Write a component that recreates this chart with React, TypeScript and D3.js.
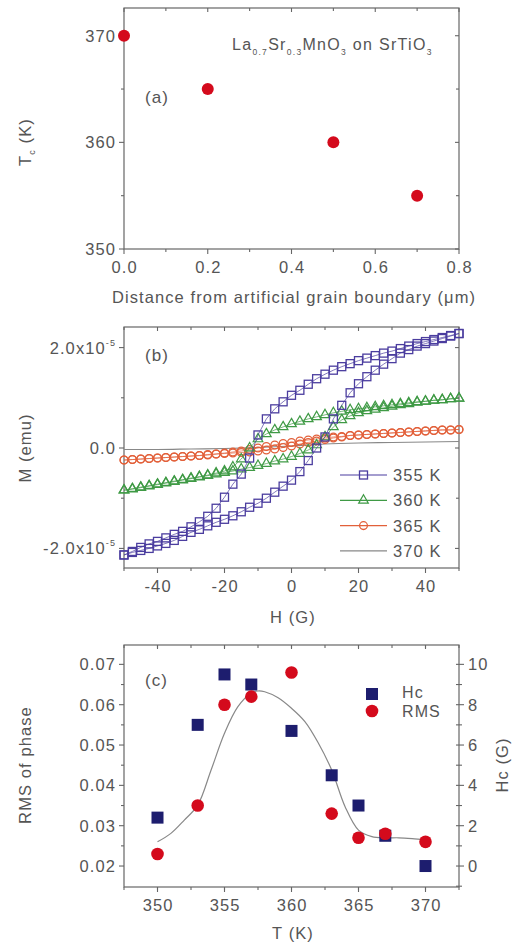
import React, { useEffect, useRef } from "react";
import * as d3 from "d3";

// panel (a): Tc vs distance from grain boundary
const distance = [0, 0.2, 0.5, 0.7];
const tcValues = [370, 365, 360, 355];

// panel (b): M-H loops, field in G, M in units of 1e-5 emu
const fieldH = [-50, -47.5, -45, -42.5, -40, -37.5, -35, -32.5, -30, -27.5, -25, -22.5, -20, -17.5, -15, -12.5, -10, -7.5, -5, -2.5, 0, 2.5, 5, 7.5, 10, 12.5, 15, 17.5, 20, 22.5, 25, 27.5, 30, 32.5, 35, 37.5, 40, 42.5, 45, 47.5, 50];
const m355Down = [-2.13, -2.06, -1.98, -1.91, -1.86, -1.79, -1.72, -1.66, -1.57, -1.47, -1.36, -1.2, -0.98, -0.72, -0.52, -0.2, 0.26, 0.58, 0.78, 0.92, 1.05, 1.15, 1.27, 1.38, 1.47, 1.55, 1.62, 1.68, 1.74, 1.79, 1.84, 1.89, 1.93, 1.98, 2.03, 2.08, 2.12, 2.16, 2.2, 2.24, 2.28];
const m355Up = [-2.13, -2.08, -2.04, -2.0, -1.95, -1.9, -1.84, -1.76, -1.68, -1.62, -1.55, -1.48, -1.42, -1.35, -1.27, -1.18, -1.1, -1.0, -0.88, -0.76, -0.64, -0.47, -0.25, 0.0, 0.22, 0.58, 0.85, 1.1, 1.28, 1.42, 1.55, 1.67, 1.78, 1.89, 1.96, 2.03, 2.08, 2.13, 2.18, 2.23, 2.28];
const m360Down = [-0.84, -0.81, -0.78, -0.75, -0.72, -0.69, -0.66, -0.63, -0.6, -0.57, -0.54, -0.5, -0.46, -0.38, -0.22, 0.0, 0.18, 0.28, 0.36, 0.42, 0.48, 0.53, 0.58, 0.62, 0.66, 0.7, 0.73, 0.76, 0.78, 0.8, 0.82, 0.84, 0.86, 0.88, 0.9, 0.92, 0.93, 0.95, 0.96, 0.98, 0.99];
const m360Up = [-0.84, -0.82, -0.79, -0.76, -0.73, -0.7, -0.67, -0.64, -0.61, -0.58, -0.55, -0.52, -0.49, -0.46, -0.42, -0.39, -0.35, -0.31, -0.26, -0.22, -0.17, -0.11, -0.04, 0.06, 0.22, 0.42, 0.56, 0.64, 0.7, 0.74, 0.77, 0.8, 0.83, 0.86, 0.88, 0.91, 0.93, 0.95, 0.96, 0.98, 0.99];
const m365Down = [-0.24, -0.23, -0.22, -0.21, -0.2, -0.19, -0.18, -0.17, -0.16, -0.15, -0.13, -0.12, -0.1, -0.08, -0.06, -0.03, 0.0, 0.03, 0.06, 0.09, 0.11, 0.14, 0.16, 0.18, 0.2, 0.22, 0.23, 0.25, 0.26, 0.27, 0.28, 0.29, 0.3, 0.31, 0.32, 0.33, 0.34, 0.35, 0.36, 0.36, 0.37];
const m365Up = [-0.24, -0.23, -0.22, -0.21, -0.2, -0.19, -0.18, -0.17, -0.16, -0.15, -0.14, -0.12, -0.11, -0.1, -0.09, -0.08, -0.06, -0.04, -0.02, 0.01, 0.04, 0.08, 0.11, 0.14, 0.17, 0.2, 0.22, 0.25, 0.26, 0.27, 0.28, 0.29, 0.3, 0.31, 0.32, 0.33, 0.34, 0.35, 0.36, 0.36, 0.37];
const field370 = [-50, -40, -30, -20, -10, 0, 10, 20, 30, 40, 50];
const m370 = [-0.03, -0.03, -0.02, -0.01, 0.01, 0.04, 0.08, 0.1, 0.11, 0.12, 0.13];
const loopLabels = ["355 K", "360 K", "365 K", "370 K"];

// panel (c): RMS of phase and Hc vs T
const tempT = [350, 353, 355, 357, 360, 363, 365, 367, 370];
const rmsPhase = [0.023, 0.035, 0.06, 0.062, 0.068, 0.033, 0.027, 0.028, 0.026];
const hcValues = [2.4, 7.0, 9.5, 9.0, 6.7, 4.5, 3.0, 1.5, 0.0];
const fitT = [350, 351, 352, 353, 354, 355, 356, 357, 357.5, 358, 359, 360, 361, 362, 363, 364, 365, 366, 367, 368, 369, 370];
const fitRms = [0.026, 0.0281, 0.0314, 0.0351, 0.0438, 0.0529, 0.0595, 0.0629, 0.0634, 0.0632, 0.0617, 0.0591, 0.0558, 0.0505, 0.0438, 0.0347, 0.0289, 0.0273, 0.027, 0.027, 0.0268, 0.0265];

const FONT = "'Liberation Sans', Arial, sans-serif";
const TEXT = "#555";
const AXIS = "#666";
const FS = 16.5;

type Sel = d3.Selection<SVGGElement, unknown, null, undefined>;

function frame(g: Sel, x: any, y: any, opts: any) {
  const [x0, x1] = x.range();
  const [y1, y0] = y.range();
  g.append("rect").attr("x", x0).attr("y", y0).attr("width", x1 - x0).attr("height", y1 - y0)
    .attr("fill", "none").attr("stroke", AXIS).attr("stroke-width", 1.2);
  const line = (xa: number, ya: number, xb: number, yb: number) =>
    g.append("line").attr("x1", xa).attr("y1", ya).attr("x2", xb).attr("y2", yb)
      .attr("stroke", AXIS).attr("stroke-width", 1.1);
  opts.xMinor.forEach((v: number) => {
    const px = x(v);
    line(px, y1, px, y1 + 3);
    line(px, y0, px, y0 + 3);
  });
  opts.xMajor.forEach((v: number) => {
    const px = x(v);
    line(px, y1, px, y1 + 5);
    line(px, y0, px, y0 + 4);
    g.append("text").attr("x", px + 0.6).attr("y", y1 + 24).attr("text-anchor", "middle")
      .attr("font-size", FS).attr("fill", TEXT).text(opts.xFmt(v));
  });
  opts.yMinor.forEach((v: number) => {
    const py = y(v);
    line(x0 - 3, py, x0, py);
    if (!opts.rightAxis) line(x1 - 3, py, x1, py);
  });
  opts.yMajor.forEach((v: number) => {
    const py = y(v);
    line(x0 - 5, py, x0, py);
    if (!opts.rightAxis) line(x1 - 4, py, x1, py);
    const t = g.append("text").attr("x", x0 - 8).attr("y", py + 6).attr("text-anchor", "end")
      .attr("font-size", FS).attr("fill", TEXT);
    opts.yFmt(t, v);
  });
}

function Chart() {
  const ref = useRef<SVGSVGElement>(null);

  useEffect(() => {
    const svg = d3.select(ref.current);
    svg.selectAll("*").remove();
    const root = svg.append("g").attr("font-family", FONT).attr("letter-spacing", 1.1);

    // ---------- (a) ----------
    const ga = root.append("g");
    const xa = d3.scaleLinear().domain([0, 0.8]).range([124, 459]);
    const ya = d3.scaleLinear().domain([350, 372.6]).range([249, 8]);
    frame(ga, xa, ya, {
      xMajor: d3.range(0, 0.81, 0.2), xMinor: d3.range(0.1, 0.8, 0.2), xFmt: d3.format(".1f"),
      yMajor: [350, 360, 370], yMinor: [355, 365],
      yFmt: (t: any, v: number) => t.text(v),
    });
    ga.selectAll("circle.tc").data(distance).enter().append("circle")
      .attr("cx", (d) => xa(d)).attr("cy", (d, i) => ya(tcValues[i])).attr("r", 6)
      .attr("fill", "#d40a1c");
    const title = ga.append("text").attr("x", 232).attr("y", 50).attr("font-size", 16)
      .attr("fill", TEXT).attr("letter-spacing", 1.3);
    const parts: [string, boolean][] = [["La", false], ["0.7", true], ["Sr", false], ["0.3", true], ["MnO", false], ["3", true], [" on SrTiO", false], ["3", true]];
    let prevSub = false;
    parts.forEach(([s, sub]) => {
      const dy = sub ? 5 : prevSub ? -5 : 0;
      title.append("tspan").attr("font-size", sub ? 8.5 : 16).attr("dy", dy).text(s);
      prevSub = sub;
    });
    ga.append("text").attr("x", 145).attr("y", 103).attr("font-size", 17).attr("fill", TEXT).text("(a)");
    const tcLab = ga.append("text").attr("transform", "translate(31,142) rotate(-90)")
      .attr("text-anchor", "middle").attr("font-size", FS).attr("fill", TEXT);
    tcLab.append("tspan").text("T");
    tcLab.append("tspan").attr("font-size", 9).attr("dy", 4).text("c");
    tcLab.append("tspan").attr("dy", -4).text(" (K)");
    ga.append("text").attr("x", 294).attr("y", 303).attr("text-anchor", "middle")
      .attr("font-size", FS).attr("fill", TEXT).text("Distance from artificial grain boundary (\u03bcm)");

    // ---------- (b) ----------
    const gb = root.append("g");
    const xb = d3.scaleLinear().domain([-50, 50]).range([124, 459]);
    const yb = d3.scaleLinear().domain([-2.39, 2.41]).range([568, 327]);
    frame(gb, xb, yb, {
      xMajor: [-40, -20, 0, 20, 40], xMinor: [-50, -30, -10, 10, 30, 50], xFmt: (v: number) => String(v),
      yMajor: [-2, 0, 2], yMinor: [-1, 1],
      yFmt: (t: any, v: number) => {
        if (v === 0) { t.text("0.0"); return; }
        t.append("tspan").text((v < 0 ? "-" : "") + "2.0x10");
        t.append("tspan").attr("font-size", 9).attr("dy", -8).text("-5");
      },
    });
    const lineB = d3.line<number>().x((d, i) => xb(fieldH[i])).y((d) => yb(d));
    const series = [
      { down: m355Down, up: m355Up, color: "#4b3d9f", shape: "square" },
      { down: m360Down, up: m360Up, color: "#3f9a45", shape: "triangle" },
      { down: m365Down, up: m365Up, color: "#e2603a", shape: "circle" },
    ];
    const marker = (g: Sel, shape: string, cx: number, cy: number, color: string) => {
      if (shape === "square") {
        g.append("rect").attr("x", cx - 4).attr("y", cy - 4).attr("width", 8).attr("height", 8)
          .attr("fill", "none").attr("stroke", color).attr("stroke-width", 1.3);
      } else if (shape === "triangle") {
        const sym = d3.symbol().type(d3.symbolTriangle).size(40);
        g.append("path").attr("d", sym()).attr("transform", `translate(${cx},${cy})`)
          .attr("fill", "none").attr("stroke", color).attr("stroke-width", 1.2);
      } else {
        g.append("circle").attr("cx", cx).attr("cy", cy).attr("r", 3.9)
          .attr("fill", "none").attr("stroke", color).attr("stroke-width", 1.3);
      }
    };
    gb.append("path").datum(m370)
      .attr("d", d3.line<number>().x((d, i) => xb(field370[i])).y((d) => yb(d)).curve(d3.curveMonotoneX))
      .attr("fill", "none").attr("stroke", "#888").attr("stroke-width", 1.2);
    series.slice().reverse().forEach((s) => {
      [s.down, s.up].forEach((arr) => {
        gb.append("path").datum(arr).attr("d", lineB).attr("fill", "none")
          .attr("stroke", s.color).attr("stroke-width", 1).attr("opacity", 0.7);
        arr.forEach((m, i) => marker(gb, s.shape, xb(fieldH[i]), yb(m), s.color));
      });
    });
    const legColors = ["#4b3d9f", "#3f9a45", "#e2603a", "#888"];
    const legShapes = ["square", "triangle", "circle", ""];
    loopLabels.forEach((lab, i) => {
      const ly = 475 + i * 25.3;
      gb.append("line").attr("x1", 340).attr("x2", 387).attr("y1", ly).attr("y2", ly)
        .attr("stroke", legColors[i]).attr("stroke-width", 1.2);
      if (legShapes[i]) marker(gb, legShapes[i], 363.5, ly, legColors[i]);
      gb.append("text").attr("x", 393).attr("y", ly + 6).attr("font-size", FS).attr("fill", TEXT).text(lab);
    });
    gb.append("text").attr("x", 145).attr("y", 361).attr("font-size", 17).attr("fill", TEXT).text("(b)");
    gb.append("text").attr("transform", "translate(31,448) rotate(-90)").attr("text-anchor", "middle")
      .attr("font-size", FS).attr("fill", TEXT).text("M (emu)");
    gb.append("text").attr("x", 293).attr("y", 623).attr("text-anchor", "middle")
      .attr("font-size", FS).attr("fill", TEXT).text("H (G)");

    // ---------- (c) ----------
    const gc = root.append("g");
    const xc = d3.scaleLinear().domain([347.5, 372.5]).range([124, 459]);
    const yc = d3.scaleLinear().domain([0.0148, 0.0748]).range([887, 645]);
    const yr = d3.scaleLinear().domain([-1.04, 10.96]).range([887, 645]);
    frame(gc, xc, yc, {
      xMajor: [350, 355, 360, 365, 370], xMinor: d3.range(347.5, 373, 2.5), xFmt: (v: number) => String(v),
      yMajor: [0.02, 0.03, 0.04, 0.05, 0.06, 0.07], yMinor: [0.025, 0.035, 0.045, 0.055, 0.065],
      yFmt: (t: any, v: number) => t.text(d3.format(".2f")(v)), rightAxis: true,
    });
    d3.range(-1, 11, 1).forEach((v) => {
      const major = v % 2 === 0;
      gc.append("line").attr("x1", 459 - 3).attr("x2", 459 + (major ? 5 : 3))
        .attr("y1", yr(v)).attr("y2", yr(v)).attr("stroke", AXIS).attr("stroke-width", 1.1);
      if (major) gc.append("text").attr("x", 468).attr("y", yr(v) + 6).attr("font-size", FS)
        .attr("fill", TEXT).text(v);
    });
    gc.append("path").datum(fitRms)
      .attr("d", d3.line<number>().x((d, i) => xc(fitT[i])).y((d) => yc(d)).curve(d3.curveCatmullRom))
      .attr("fill", "none").attr("stroke", "#888").attr("stroke-width", 1.2);
    gc.selectAll("rect.hc").data(hcValues).enter().append("rect")
      .attr("x", (d, i) => xc(tempT[i]) - 6).attr("y", (d) => yr(d) - 6)
      .attr("width", 12).attr("height", 12).attr("fill", "#1d1d6e");
    gc.selectAll("circle.rms").data(rmsPhase).enter().append("circle")
      .attr("cx", (d, i) => xc(tempT[i])).attr("cy", (d) => yc(d)).attr("r", 6.3)
      .attr("fill", "#d40a1c");
    gc.append("rect").attr("x", 366).attr("y", 688).attr("width", 12).attr("height", 12).attr("fill", "#1d1d6e");
    gc.append("circle").attr("cx", 372).attr("cy", 711).attr("r", 6.3).attr("fill", "#d40a1c");
    gc.append("text").attr("x", 402).attr("y", 698).attr("font-size", 16).attr("fill", TEXT).text("Hc");
    gc.append("text").attr("x", 402).attr("y", 717).attr("font-size", 16).attr("fill", TEXT).text("RMS");
    gc.append("text").attr("x", 145).attr("y", 686).attr("font-size", 17).attr("fill", TEXT).text("(c)");
    gc.append("text").attr("transform", "translate(31,765) rotate(-90)").attr("text-anchor", "middle")
      .attr("font-size", FS).attr("fill", TEXT).text("RMS of phase");
    gc.append("text").attr("transform", "translate(508,765) rotate(-90)").attr("text-anchor", "middle")
      .attr("font-size", FS).attr("fill", TEXT).text("Hc (G)");
    gc.append("text").attr("x", 293).attr("y", 939).attr("text-anchor", "middle")
      .attr("font-size", FS).attr("fill", TEXT).text("T (K)");
  }, []);

  return <svg ref={ref} width={515} height={943} style={{ position: "absolute", left: 0, top: 0, background: "#fff" }} />;
}

export default function App() {
  return <Chart />;
}
